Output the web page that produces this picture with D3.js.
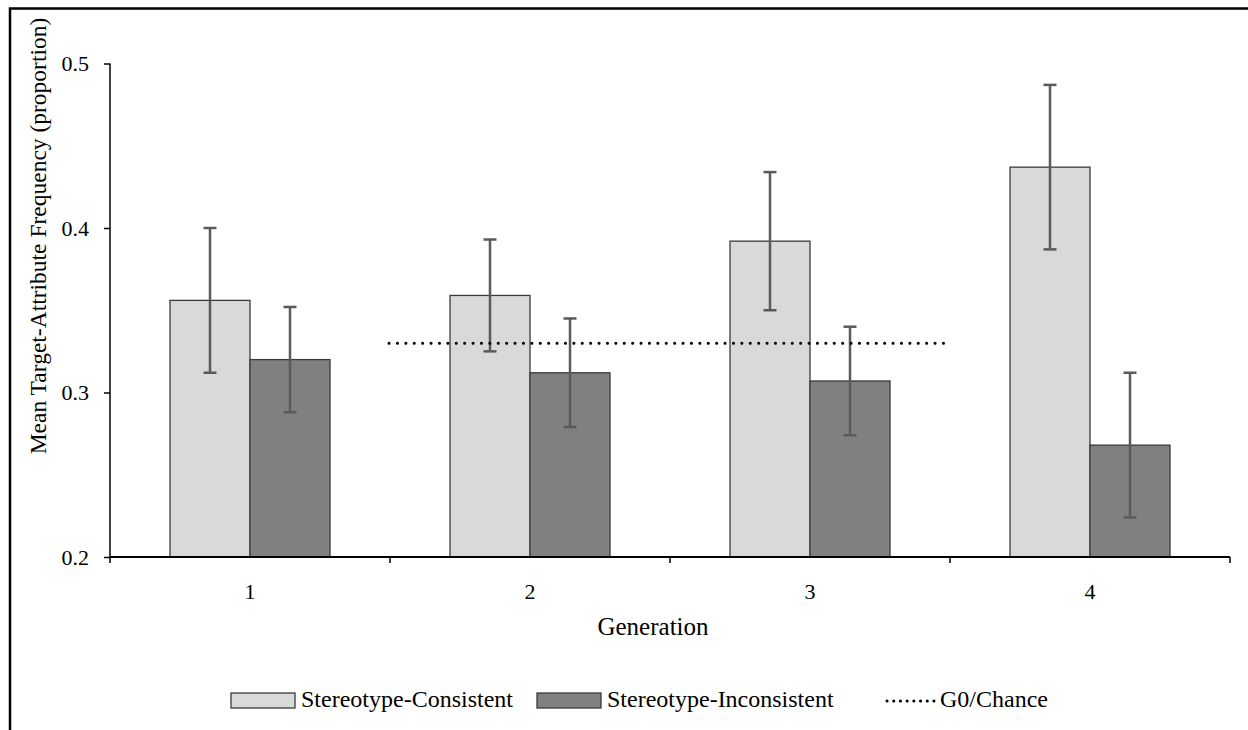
<!DOCTYPE html>
<html>
<head>
<meta charset="utf-8">
<script src="https://cdn.jsdelivr.net/npm/d3@7"></script>
<style>
  body { margin: 0; background: #fff; }
  svg { display: block; font-family: "Liberation Serif", "Times New Roman", serif; }
</style>
</head>
<body>
<div class="svg-container"></div>
<script>
// data
const generations = ["1", "2", "3", "4"];
const consistent = [0.356, 0.359, 0.392, 0.437];
const consistentErr = [0.044, 0.034, 0.042, 0.050];
const inconsistent = [0.320, 0.312, 0.307, 0.268];
const inconsistentErr = [0.032, 0.033, 0.033, 0.044];
const chance = 0.33;
const chanceSpan = ["2", "4"]; // dotted line runs from start of gen 2 to start of gen 4
const yTicks = [0.2, 0.3, 0.4, 0.5];
const seriesNames = ["Stereotype-Consistent", "Stereotype-Inconsistent", "G0/Chance"];

const W = 1248, H = 730;
const plot = { left: 110, right: 1230, top: 63.5, bottom: 557 };

const svg = d3.select("div.svg-container").append("svg")
    .attr("width", W).attr("height", H);

// outer frame (only top and left edges visible)
svg.append("path")
    .attr("d", `M10,${H + 5}V8.5H${W + 5}`)
    .attr("fill", "none").attr("stroke", "#000").attr("stroke-width", 2.5);

const x = d3.scaleBand().domain(generations).range([plot.left, plot.right]).paddingInner(0).paddingOuter(0);
const inner = d3.scaleBand().domain(["c", "i"]).range([0, x.bandwidth()]).paddingOuter(60 / 80 / 2 * 2 * 0.5);
// bars: 80px each, group of 160 centered in a 280 band
const barW = 80;
const groupOff = (x.bandwidth() - 2 * barW) / 2;
const y = d3.scaleLinear().domain([0.2, 0.5]).range([plot.bottom, plot.top]);

const rows = generations.map((g, i) => ({
  g,
  series: [
    { key: "c", v: consistent[i], e: consistentErr[i], fill: "#d9d9d9" },
    { key: "i", v: inconsistent[i], e: inconsistentErr[i], fill: "#808080" }
  ]
}));

const groups = svg.append("g").selectAll("g").data(rows).join("g")
    .attr("transform", d => `translate(${x(d.g) + groupOff},0)`);

groups.selectAll("rect").data(d => d.series).join("rect")
    .attr("x", (d, j) => j * barW)
    .attr("y", d => y(d.v))
    .attr("width", barW)
    .attr("height", d => y(0.2) - y(d.v))
    .attr("fill", d => d.fill)
    .attr("stroke", "#3a3a3a")
    .attr("stroke-width", 1.3);

// chance line
svg.append("line")
    .attr("x1", x(chanceSpan[0]) - 1).attr("x2", x(chanceSpan[1]) - 3)
    .attr("y1", y(chance)).attr("y2", y(chance))
    .attr("stroke", "#000").attr("stroke-width", 3)
    .attr("stroke-linecap", "round")
    .attr("stroke-dasharray", "0.1 8.3");

// error bars
const eb = groups.selectAll("g.err").data(d => d.series).join("g").attr("class", "err")
    .attr("stroke", "#5a5a5a").attr("stroke-width", 2.5);
eb.append("line")
    .attr("x1", (d, j) => j * barW + barW / 2).attr("x2", (d, j) => j * barW + barW / 2)
    .attr("y1", d => y(d.v - d.e)).attr("y2", d => y(d.v + d.e));
[-1, 1].forEach(s => {
  eb.append("line")
    .attr("x1", (d, j) => j * barW + barW / 2 - 6.5).attr("x2", (d, j) => j * barW + barW / 2 + 6.5)
    .attr("y1", d => y(d.v + s * d.e)).attr("y2", d => y(d.v + s * d.e));
});

// y axis
const yAxis = svg.append("g")
    .attr("transform", `translate(${plot.left},0)`)
    .call(d3.axisLeft(y).tickValues(yTicks).tickFormat(d3.format(".1f")).tickSize(6).tickPadding(15));
yAxis.select(".domain").attr("stroke-width", 1.5).attr("d", `M0,${plot.top}V${plot.bottom}`);
yAxis.selectAll(".tick line").attr("stroke-width", 1.5);
yAxis.selectAll("text").attr("font-size", 22).attr("font-family", "Liberation Serif").attr("fill", "#000");

// x axis: ticks at category boundaries
const xAxis = svg.append("g").attr("transform", `translate(0,${plot.bottom})`);
xAxis.append("line").attr("x1", plot.left).attr("x2", plot.right)
    .attr("stroke", "#000").attr("stroke-width", 1.8);
xAxis.selectAll("line.tk").data(generations.concat(["end"])).join("line").attr("class", "tk")
    .attr("x1", (d, i) => i < generations.length ? x(d) : plot.right)
    .attr("x2", (d, i) => i < generations.length ? x(d) : plot.right)
    .attr("y1", 0).attr("y2", 6)
    .attr("stroke", "#000").attr("stroke-width", 1.5);
xAxis.selectAll("text").data(generations).join("text")
    .attr("x", d => x(d) + x.bandwidth() / 2)
    .attr("y", 42)
    .attr("text-anchor", "middle")
    .attr("font-size", 22)
    .text(d => d);

// axis titles
svg.append("text")
    .attr("x", 653).attr("y", 635)
    .attr("text-anchor", "middle").attr("font-size", 25)
    .text("Generation");
svg.append("text")
    .attr("transform", "translate(46,236) rotate(-90)")
    .attr("text-anchor", "middle").attr("font-size", 23.5)
    .text("Mean Target-Attribute Frequency (proportion)");

// legend
const legend = svg.append("g").attr("font-size", 24);
const lx = [231, 537, 887];
[["#d9d9d9"], ["#808080"]].forEach((c, i) => {
  legend.append("rect")
    .attr("x", lx[i]).attr("y", 693).attr("width", 64).attr("height", 15)
    .attr("fill", c[0]).attr("stroke", "#3a3a3a").attr("stroke-width", 1.3);
  legend.append("text").attr("x", lx[i] + 70).attr("y", 707).text(seriesNames[i]);
});
legend.append("line")
    .attr("x1", lx[2]).attr("x2", lx[2] + 47).attr("y1", 701).attr("y2", 701)
    .attr("stroke", "#000").attr("stroke-width", 3)
    .attr("stroke-linecap", "round").attr("stroke-dasharray", "0.1 6.6");
legend.append("text").attr("x", 940).attr("y", 707).text(seriesNames[2]);
</script>
</body>
</html>
